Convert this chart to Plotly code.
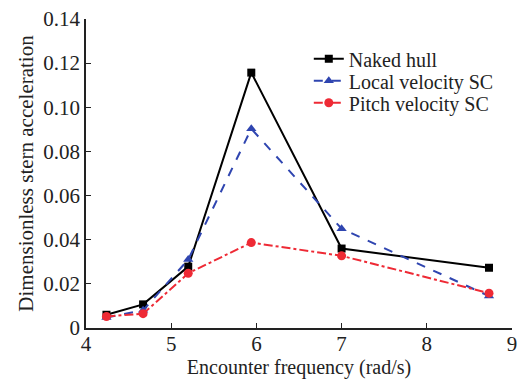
import plotly.graph_objects as go

freq = [4.24, 4.67, 5.2, 5.94, 7.0, 8.73]
naked_hull = [0.006, 0.0107, 0.0278, 0.1157, 0.036, 0.0273]
local_sc = [0.0048, 0.008, 0.031, 0.0903, 0.045, 0.0145]
pitch_sc = [0.0052, 0.0065, 0.0248, 0.0387, 0.0327, 0.0158]

x_ticks = [4, 5, 6, 7, 8, 9]
y_ticks = [0, 0.02, 0.04, 0.06, 0.08, 0.10, 0.12, 0.14]
y_labels = ["0", "0.02", "0.04", "0.06", "0.08", "0.10", "0.12", "0.14"]

font = "Liberation Serif"
tfont = dict(family=font, size=21, color="#222222")
lfont = dict(family=font, size=20, color="#222222")

fig = go.Figure()
fig.add_trace(go.Scatter(x=freq, y=naked_hull, name="Naked hull", mode="lines+markers",
                         line=dict(color="#000000", width=2),
                         marker=dict(symbol="square", size=8, color="#000000"),
                         legend="legend"))
fig.add_trace(go.Scatter(x=freq, y=local_sc, name="Local velocity SC", mode="lines+markers",
                         line=dict(color="#2f45b0", width=2, dash="dash"),
                         marker=dict(symbol="triangle-up", size=9, color="#2f45b0"),
                         legend="legend2"))
fig.add_trace(go.Scatter(x=freq, y=pitch_sc, name="Pitch velocity SC", mode="lines+markers",
                         line=dict(color="#ee2a35", width=2, dash="dashdot"),
                         marker=dict(symbol="circle", size=9, color="#ee2a35"),
                         legend="legend3"))

def leg(yc):
    return dict(x=0.523, y=yc, xanchor="left", yanchor="middle",
                bgcolor="rgba(0,0,0,0)", font=lfont, itemwidth=30,
                borderwidth=0)

fig.update_layout(
    width=524, height=380,
    margin=dict(l=86, r=12, t=19, b=52, autoexpand=False),
    paper_bgcolor="white", plot_bgcolor="white",
    font=tfont,
    showlegend=True,
    legend=leg(0.871),
    legend2=leg(0.800),
    legend3=leg(0.729),
    xaxis=dict(range=[4, 9], tickvals=x_ticks, ticks="inside", ticklen=5,
               showline=True, linecolor="#222222", linewidth=1.5, showgrid=False,
               zeroline=False, tickcolor="#222222", tickfont=tfont, automargin=False,
               ticklabelstandoff=-4,
               title=dict(text="Encounter frequency (rad/s)", standoff=4,
                          font=dict(family=font, size=20, color="#222222"))),
    yaxis=dict(range=[0, 0.14], tickvals=y_ticks, ticktext=y_labels, ticks="inside",
               ticklen=5, showline=True, linecolor="#222222", linewidth=1.5,
               showgrid=False, zeroline=False, tickcolor="#222222", tickfont=tfont,
               automargin=False,
               title=dict(text="Dimensionless stern acceleration", standoff=4, font=tfont)),
)

fig.write_html("out.html")
